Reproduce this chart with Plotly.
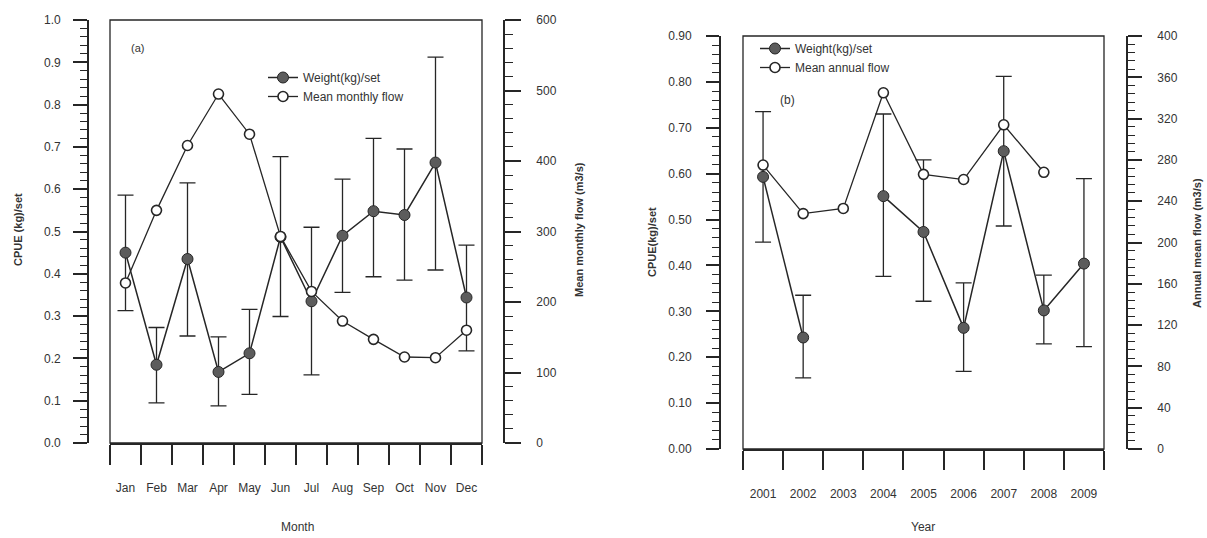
import plotly.graph_objects as go

W, H = 1207, 538

# ---------------- data: panel (a) ----------------
months = ["Jan", "Feb", "Mar", "Apr", "May", "Jun", "Jul", "Aug", "Sep", "Oct", "Nov", "Dec"]
month_pos = list(range(1, 13))
weight_a = [0.450, 0.185, 0.435, 0.168, 0.212, 0.487, 0.335, 0.490, 0.548, 0.539, 0.663, 0.344]
weight_a_hi = [0.586, 0.273, 0.615, 0.251, 0.316, 0.677, 0.510, 0.624, 0.720, 0.695, 0.912, 0.468]
weight_a_lo = [0.313, 0.095, 0.253, 0.088, 0.115, 0.299, 0.161, 0.356, 0.393, 0.385, 0.409, 0.218]
flow_a = [227, 330, 422, 495, 438, 293, 215, 173, 147, 122, 121, 160]

# ---------------- data: panel (b) ----------------
years = ["2001", "2002", "2003", "2004", "2005", "2006", "2007", "2008", "2009"]
year_pos = list(range(1, 10))
weight_b = [0.593, 0.243, None, 0.551, 0.473, 0.264, 0.649, 0.302, 0.404]
weight_b_hi = [0.735, 0.335, None, 0.730, 0.630, 0.362, 0.812, 0.379, 0.589]
weight_b_lo = [0.451, 0.155, None, 0.376, 0.322, 0.169, 0.486, 0.229, 0.223]
flow_b = [275, 228, 233, 345, 266, 261, 314, 268, None]

INK = "#262626"
FILL = "#5c5c5c"
FONT = "Liberation Sans Narrow, Liberation Sans, Arial, sans-serif"


def err(mean, hi, lo):
    plus = [None if m is None else h - m for m, h in zip(mean, hi)]
    minus = [None if m is None else m - l for m, l in zip(mean, lo)]
    return dict(type="data", symmetric=False, array=plus, arrayminus=minus,
                color=INK, thickness=1.3, width=8)


fig = go.Figure()

# panel (a)
fig.add_trace(go.Scatter(
    x=month_pos, y=weight_a, name="Weight(kg)/set", xaxis="x", yaxis="y",
    mode="lines+markers", line=dict(color=INK, width=1.5),
    marker=dict(size=11, color=FILL, line=dict(color=INK, width=1)),
    error_y=err(weight_a, weight_a_hi, weight_a_lo), legend="legend"))
fig.add_trace(go.Scatter(
    x=month_pos, y=flow_a, name="Mean monthly flow", xaxis="x", yaxis="y2",
    mode="lines+markers", line=dict(color=INK, width=1.3),
    marker=dict(size=10, color="white", line=dict(color=INK, width=1.6)),
    legend="legend"))

# panel (b)
fig.add_trace(go.Scatter(
    x=year_pos, y=weight_b, name="Weight(kg)/set", xaxis="x2", yaxis="y3",
    mode="lines+markers", line=dict(color=INK, width=1.5), connectgaps=False,
    marker=dict(size=11, color=FILL, line=dict(color=INK, width=1)),
    error_y=err(weight_b, weight_b_hi, weight_b_lo), legend="legend2"))
fig.add_trace(go.Scatter(
    x=year_pos, y=flow_b, name="Mean annual flow", xaxis="x2", yaxis="y4",
    mode="lines+markers", line=dict(color=INK, width=1.3), connectgaps=False,
    marker=dict(size=10, color="white", line=dict(color=INK, width=1.6)),
    legend="legend2"))


def xaxis(dom, n, labels, anchor, mlen):
    return dict(domain=dom, range=[0.5, n + 0.5], anchor=anchor, automargin=False,
                tickmode="array", tickvals=list(range(1, n + 1)), ticktext=labels,
                ticks="outside", ticklen=33, tickcolor="rgba(0,0,0,0)",
                minor=dict(tickmode="array", tickvals=[i + 0.5 for i in range(n + 1)],
                           ticks="outside", ticklen=mlen, tickcolor=INK, tickwidth=1.6),
                showline=True, linewidth=2, linecolor=INK, showgrid=False, zeroline=False,
                tickfont=dict(size=12, color="#333", family=FONT), fixedrange=True)


def yaxis(dom, rng, dtick, mdt, pos, side, fmt, tlen, mlen, standoff, overlay=None):
    d = dict(domain=dom, range=rng, anchor="free", position=pos, side=side,
             automargin=False,
             tickmode="linear", tick0=0, dtick=dtick, tickformat=fmt,
             ticks="outside", ticklen=tlen, tickwidth=1.6, tickcolor=INK,
             minor=dict(dtick=mdt, tick0=0, ticks="outside", ticklen=mlen,
                        tickwidth=1.3, tickcolor=INK),
             showline=True, linewidth=1.8, linecolor=INK, showgrid=False,
             zeroline=False, ticklabelstandoff=standoff,
             tickfont=dict(size=12, color="#333", family=FONT))
    if overlay:
        d["overlaying"] = overlay
    return d


dom_a_y = [1 - 443 / H, 1 - 20 / H]
dom_b_y = [1 - 449 / H, 1 - 36 / H]

fig.update_layout(
    template="none",
    width=W, height=H, autosize=False,
    margin=dict(l=0, r=0, t=0, b=0, pad=0, autoexpand=False),
    paper_bgcolor="white", plot_bgcolor="white",
    font=dict(family=FONT, color="#333", size=12),
    xaxis=xaxis([110 / W, 482 / W], 12, months, "y", 20),
    yaxis=yaxis(dom_a_y, [0, 1], 0.1, 0.02, 88 / W, "left", ".1f", 14, 7, 10),
    yaxis2=yaxis(dom_a_y, [0, 600], 100, 20, 504 / W, "right", "d", 16, 8, 13, "y"),
    xaxis2=xaxis([743 / W, 1104 / W], 9, years, "y3", 19),
    yaxis3=yaxis(dom_b_y, [0, 0.9], 0.1, 0.02, 720 / W, "left", ".2f", 13, 7, 12),
    yaxis4=yaxis(dom_b_y, [0, 400], 40, 8, 1127 / W, "right", "d", 14, 7, 13, "y3"),
    legend=dict(x=263 / W, y=1 - 63 / H, xanchor="left", yanchor="top",
                bgcolor="rgba(0,0,0,0)", borderwidth=0,
                font=dict(size=12, color="#333", family=FONT), tracegroupgap=0),
    legend2=dict(x=755 / W, y=1 - 34 / H, xanchor="left", yanchor="top",
                 bgcolor="rgba(0,0,0,0)", borderwidth=0,
                 font=dict(size=12, color="#333", family=FONT), tracegroupgap=0),
    showlegend=True,
)

# plot boxes
fig.add_shape(type="rect", xref="x domain", yref="y domain", x0=0, x1=1, y0=0, y1=1,
              line=dict(color=INK, width=1.3), layer="below")
fig.add_shape(type="rect", xref="x2 domain", yref="y3 domain", x0=0, x1=1, y0=0, y1=1,
              line=dict(color=INK, width=1.3), layer="below")


def ann(text, x, y, size=12, angle=0, bold=False):
    fig.add_annotation(text=f"<b>{text}</b>" if bold else text,
                       x=x / W, y=1 - y / H, xref="paper", yref="paper",
                       showarrow=False, textangle=angle, xanchor="center", yanchor="middle",
                       font=dict(size=size, color="#333", family=FONT))


ann("(a)", 137, 48, 11)
ann("(b)", 787, 100, 12)
ann("CPUE (kg)/set", 18, 230, 11, -90, True)
ann("Mean monthly flow (m3/s)", 579, 230, 11, -90, True)
ann("CPUE(kg)/set", 652, 242, 11, -90, True)
ann("Annual mean flow (m3/s)", 1197, 243, 11, -90, True)
ann("Month", 297, 527, 12)
ann("Year", 923, 527, 12)

fig.write_html("out.html")
